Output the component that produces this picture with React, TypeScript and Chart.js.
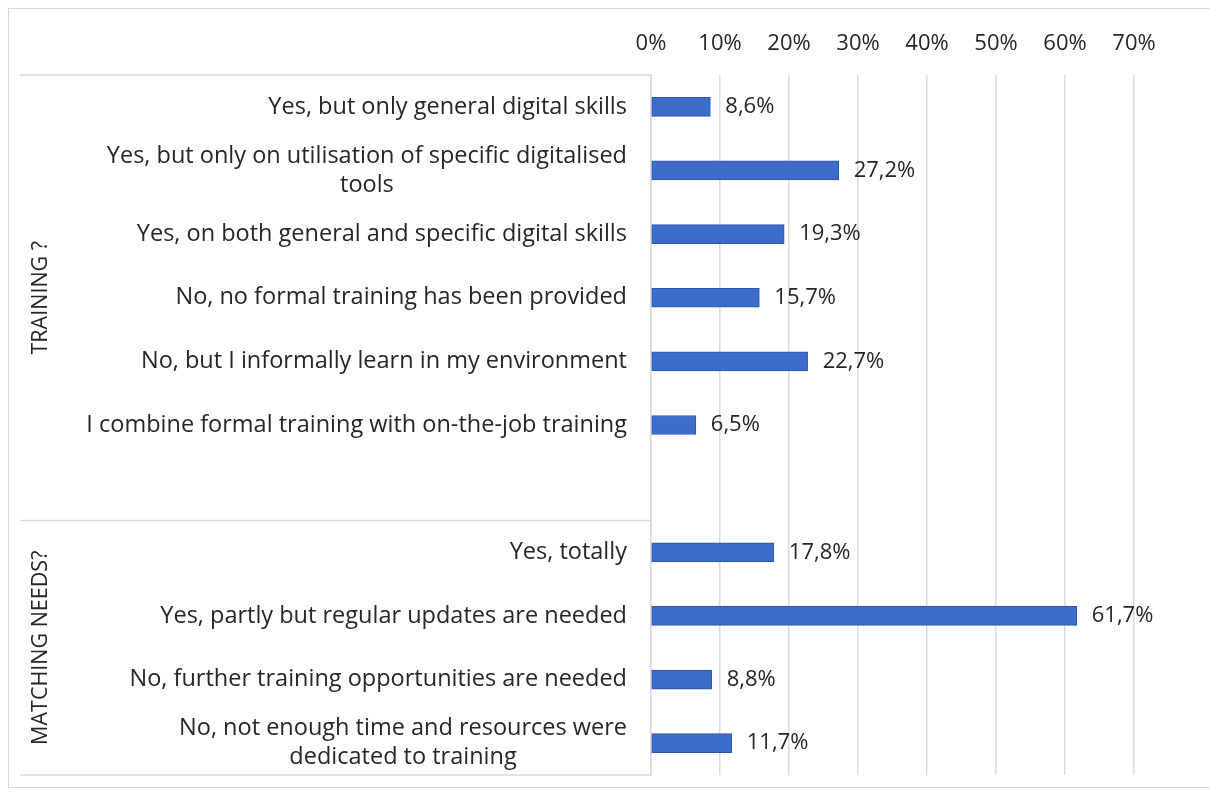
import React, { useEffect, useRef } from "react";
import { Chart, registerables } from "chart.js";

Chart.register(...registerables);

const categories: (string | string[])[] = [
  "Yes, but only general digital skills",
  ["Yes, but only on utilisation of specific digitalised", "tools"],
  "Yes, on both general and specific digital skills",
  "No, no formal training has been provided",
  "No, but I informally learn in my environment",
  "I combine formal training with on-the-job training",
  "",
  "Yes, totally",
  "Yes, partly but regular updates are needed",
  "No, further training opportunities are needed",
  ["No, not enough time and resources were", "dedicated to training"],
];
const values: (number | null)[] = [8.6, 27.2, 19.3, 15.7, 22.7, 6.5, null, 17.8, 61.7, 8.8, 11.7];
const groupNames = ["TRAINING ?", "MATCHING NEEDS?"];
const groupSizes = [7, 4];
const xTickValues = [0, 10, 20, 30, 40, 50, 60, 70];

const FONT = "'Open Sans'";
const FONT_SIZE = 23.5;
const TICK_FONT_SIZE = 22;
const GROUP_FONT_SIZE = 21.5;
const TEXT_COLOR = "#262626";

const overlayPlugin = {
  id: "overlay",
  afterDraw(chart: any) {
    const { ctx, chartArea, scales } = chart;
    const yScale = scales.y;
    const xScale = scales.x;
    ctx.save();
    ctx.font = `${FONT_SIZE}px ${FONT}`;
    ctx.fillStyle = TEXT_COLOR;
    ctx.textBaseline = "middle";
    const rightEdge = chartArea.left - 24;
    const lineH = 29;
    categories.forEach((lab, i) => {
      const y = yScale.getPixelForValue(i);
      const lines = Array.isArray(lab) ? lab : [lab];
      if (lines.length === 1) {
        ctx.textAlign = "right";
        ctx.fillText(lines[0], rightEdge, y);
      } else {
        const maxW = Math.max(...lines.map((l) => ctx.measureText(l).width));
        const cx = rightEdge - maxW / 2;
        ctx.textAlign = "center";
        lines.forEach((l, k) => {
          ctx.fillText(l, cx, y + (k - (lines.length - 1) / 2) * lineH);
        });
      }
    });
    // data labels
    ctx.font = `${TICK_FONT_SIZE}px ${FONT}`;
    ctx.textAlign = "left";
    values.forEach((v, i) => {
      if (v == null) return;
      const x = xScale.getPixelForValue(v);
      const y = yScale.getPixelForValue(i);
      ctx.fillText(v.toFixed(1).replace(".", ",") + "%", x + 15, y);
    });
    // group boxes
    ctx.strokeStyle = "#d9d9d9";
    ctx.lineWidth = 1.5;
    const x0 = 11;
    const boundaries: number[] = [chartArea.top];
    let idx = 0;
    groupSizes.forEach((n, g) => {
      idx += n;
      if (g < groupSizes.length - 1) {
        boundaries.push((yScale.getPixelForValue(idx - 1) + yScale.getPixelForValue(idx)) / 2);
      }
    });
    boundaries.push(chartArea.bottom);
    boundaries.forEach((b) => {
      ctx.beginPath();
      ctx.moveTo(x0, b);
      ctx.lineTo(chartArea.left, b);
      ctx.stroke();
    });
    // group labels
    ctx.font = `${GROUP_FONT_SIZE}px ${FONT}`;
    groupNames.forEach((name, g) => {
      const cy = (boundaries[g] + boundaries[g + 1]) / 2;
      ctx.save();
      ctx.translate(32, cy);
      ctx.rotate(-Math.PI / 2);
      ctx.textAlign = "center";
      ctx.textBaseline = "middle";
      ctx.fillStyle = TEXT_COLOR;
      ctx.fillText(name, 0, 0);
      ctx.restore();
    });
    ctx.restore();
  },
};

export default function App() {
  const ref = useRef<HTMLCanvasElement | null>(null);
  useEffect(() => {
    if (!ref.current) return;
    const chart = new Chart(ref.current, {
      type: "bar",
      data: {
        labels: categories.map((c) => (Array.isArray(c) ? c.join(" ") : c)),
        datasets: [
          {
            data: values as any,
            backgroundColor: "#3D6DCC",
            borderColor: "#2E55A8",
            borderWidth: 1,
            borderSkipped: false,
            barThickness: 19,
          },
        ],
      },
      options: {
        indexAxis: "y",
        animation: false,
        responsive: false,
        layout: { padding: { left: 0, right: 77, top: 0, bottom: 12 } },
        plugins: { legend: { display: false }, tooltip: { enabled: false } },
        scales: {
          x: {
            position: "top",
            min: 0,
            max: 70,
            afterFit: (s: any) => {
              s.height = 66;
            },
            afterBuildTicks: (s: any) => {
              s.ticks = xTickValues.map((v) => ({ value: v }));
            },
            ticks: {
              callback: (v: any) => v + "%",
              color: TEXT_COLOR,
              font: { family: FONT, size: TICK_FONT_SIZE },
              padding: 18,
              maxRotation: 0,
            },
            grid: { color: "#dcdcdc", lineWidth: 1.5, drawTicks: false },
            border: { display: false },
          },
          y: {
            afterFit: (s: any) => {
              s.width = 642;
            },
            ticks: { display: false },
            grid: { display: false, drawTicks: false },
            border: { display: true, color: "#d9d9d9", width: 1.5 },
          },
        },
      },
      plugins: [overlayPlugin],
    });
    return () => chart.destroy();
  }, []);
  return (
    <div
      style={{
        width: 1204,
        height: 780,
        border: "1px solid #d9d9d9",
        boxSizing: "border-box",
        background: "#fff",
      }}
    >
      <canvas ref={ref} width={1202} height={778} style={{ display: "block" }} />
    </div>
  );
}
